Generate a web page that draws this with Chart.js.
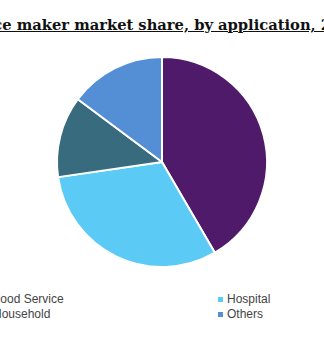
<!DOCTYPE html>
<html>
<head>
<meta charset="utf-8">
<script src="https://cdn.jsdelivr.net/npm/chart.js@4.4.0/dist/chart.umd.min.js"></script>
<style>
  html, body { margin:0; padding:0; background:#fff; width:324px; height:341px; overflow:hidden; position:relative; }
  #title { position:absolute; top:17px; left:162px; transform:translateX(-50%); white-space:nowrap;
           font-family:"DejaVu Serif","Liberation Serif",serif; font-weight:bold; font-size:14.7px; line-height:16px; color:#111;
           text-decoration:underline; }
  #pie { position:absolute; left:0; top:56px; }
  .leg { position:absolute; font-family:"Liberation Sans",Arial,sans-serif; font-size:12px; color:#444; white-space:nowrap; line-height:14px; }
  .leg span.m { display:inline-block; width:5px; height:5px; margin-right:4px; vertical-align:1px; }
</style>
</head>
<body>
<div id="title"></div>
<canvas id="pie" width="324" height="212"></canvas>
<div id="legend"></div>
<script>
const titleText = "Global ice maker market share, by application, 2019 (%)";
const categories = ["Food Service", "Hospital", "Household", "Others"];
const shares = [41.6, 31.1, 12.5, 14.8];
const colors = ["#4e1a69", "#5bcbf5", "#386b7e", "#548fd6"];

document.getElementById('title').textContent = titleText;

new Chart(document.getElementById('pie'), {
  type: 'pie',
  data: {
    labels: categories,
    datasets: [{ data: shares, backgroundColor: colors, borderColor: '#ffffff', borderWidth: 2 }]
  },
  options: {
    responsive: false,
    animation: false,
    layout: { padding: 0 },
    plugins: { legend: { display: false }, tooltip: { enabled: false }, title: { display: false } }
  }
});

// two-column legend, filled column by column
const legend = document.getElementById('legend');
const colX = [-16, 218];
const rowY = [292, 307];
const cellOf = [[0, 0], [1, 0], [0, 1], [1, 1]]; // [col,row] for each category
categories.forEach((c, i) => {
  const [col, row] = cellOf[i];
  const d = document.createElement('div');
  d.className = 'leg';
  d.style.left = colX[col] + 'px';
  d.style.top = rowY[row] + 'px';
  d.innerHTML = '<span class="m" style="background:' + colors[i] + '"></span>';
  d.appendChild(document.createTextNode(c));
  legend.appendChild(d);
});
</script>
</body>
</html>
